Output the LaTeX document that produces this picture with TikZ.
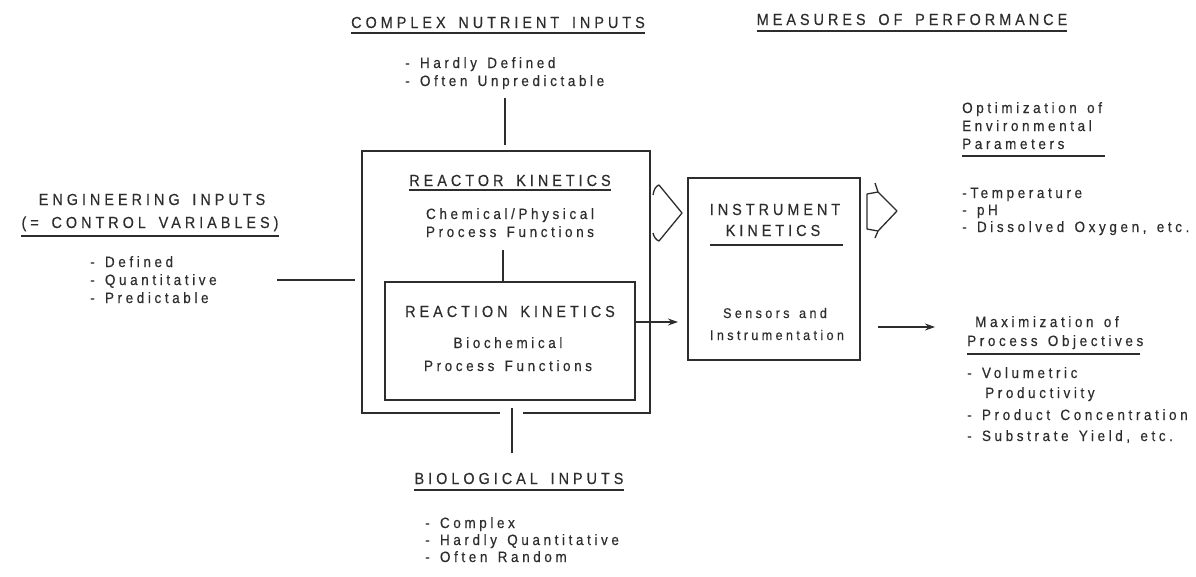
\documentclass[tikz,border=0pt]{standalone}
\usepackage{fontspec}
\setmainfont{Liberation Sans}
\newfontfamily\hdfont[FakeStretch=0.9,LetterSpace=25,WordSpace=1.6,FakeBold=0.4]{Liberation Sans}
\newfontfamily\txfont[FakeStretch=0.9,LetterSpace=24,WordSpace=1.4,FakeBold=0.4]{Liberation Sans}
\usetikzlibrary{arrows.meta,calc}
\definecolor{ink}{RGB}{45,45,45}
\begin{document}
\begin{tikzpicture}[x=1pt,y=-1pt,
  hd/.style={inner sep=0pt, anchor=base, font=\hdfont\fontsize{16}{19}\selectfont, text=ink},
  tx/.style={inner sep=0pt, anchor=base west, font=\txfont\fontsize{15}{18}\selectfont, text=ink},
  txc/.style={tx, anchor=base},
  ln/.style={draw=ink, line width=1.3pt},
  arr/.style={ln, -{Stealth[length=10pt,width=7pt]}},
  boxframe/.style={inner sep=0pt, outer sep=0pt},
  uline/.style={ln, line width=1.2pt},
]
\useasboundingbox (0,0) rectangle (1196,576);

% ---------- complex nutrient inputs ----------
\node[hd] (cnh) at (498,28) {COMPLEX NUTRIENT INPUTS};
\draw[uline] ([yshift=-5pt]cnh.base west) -- ([yshift=-5pt]cnh.base east);
\node[tx] (cn1) at (405,68) {- Hardly Defined};
\node[tx] (cn2) at (405,86) {- Often Unpredictable};
\coordinate (cnA) at (505,98);
\coordinate (cnB) at (505,145);
\draw[ln] (cnA) -- (cnB);

% ---------- reactor (outer) and reaction (inner) boxes ----------
\node[boxframe, minimum width=288pt, minimum height=262pt] (outer) at (506,282) {};
\coordinate (gapL) at (500,413);
\coordinate (gapR) at (523,413);
\draw[ln] (gapL) -- (outer.south west) -- (outer.north west) -- (outer.north east) -- (outer.south east) -- (gapR);

\node[hd] (rkh) at (510,186) {REACTOR KINETICS};
\draw[uline] ([yshift=-4pt]rkh.base west) -- ([yshift=-4pt]rkh.base east);
\node[txc] (rk1) at (510,219) {Chemical/Physical};
\node[txc] (rk2) at (510,237) {Process Functions};

\node[boxframe, draw=ink, line width=1.3pt, minimum width=250pt, minimum height=118pt] (inner) at (510,341) {};
\coordinate (midA) at (503,250);
\draw[ln] (midA) -- (midA |- inner.north);

\node[hd] (bkh) at (510,317) {REACTION KINETICS};
\node[txc] (bk1) at (508,348) {Biochemical};
\node[txc] (bk2) at (508,371) {Process Functions};

% ---------- instrument box ----------
\node[boxframe, draw=ink, line width=1.3pt, minimum width=172pt, minimum height=182pt] (inst) at (774,269) {};
\node[hd] (ikh1) at (775,215) {INSTRUMENT};
\node[hd] (ikh2) at (773,236) {KINETICS};
\draw[uline] ($(inst.west)+(22,-24)$) -- ($(inst.east)+(-17,-24)$);
\node[txc, font=\txfont\fontsize{14}{17}\selectfont] (ik1) at (775,318) {Sensors and};
\node[txc, font=\txfont\fontsize{14}{17}\selectfont] (ik2) at (777,340) {Instrumentation};

\draw[arr] ([yshift=19pt]inner.east) -- ([yshift=19pt,xshift=-10pt]inner.east -| inst.west);

% braces
\draw[ln, line join=round] (653,195) .. controls (654,189) and (656,186) .. (659,185)
  -- (682,213) -- (659,241) .. controls (656,240) and (654,237) .. (653,233);
\draw[ln, line join=round] (875,183) -- (878,192) -- (897,211) -- (878,231) -- (875,238);
\draw[ln, line join=round] (878,192) -- (867,194) -- (867,229) -- (878,231);

% ---------- measures of performance ----------
\node[hd] (mph) at (912,25) {MEASURES OF PERFORMANCE};
\draw[uline] ([yshift=-6pt]mph.base west) -- ([yshift=-6pt]mph.base east);

\node[tx] (op1) at (962,113) {Optimization of};
\node[tx] (op2) at (962,131) {Environmental};
\node[tx] (op3) at (962,149) {Parameters};
\draw[uline] ([yshift=-7pt]op3.base west) -- ++(143,0);
\node[tx] (ep1) at (962,198) {-Temperature};
\node[tx] (ep2) at (962,215) {- pH};
\node[tx] (ep3) at (962,232) {- Dissolved Oxygen, etc.};

\draw[arr] ([yshift=-58pt,xshift=18pt]inst.east) -- ([yshift=-58pt,xshift=75pt]inst.east);

\node[tx] (mx1) at (975,327) {Maximization of};
\node[tx] (mx2) at (967,346) {Process Objectives};
\draw[uline] ([yshift=-8pt]mx2.base west) -- ++(173,0);
\node[tx] (po1) at (967,378) {- Volumetric};
\node[tx] (po2) at (985,398) {Productivity};
\node[tx] (po3) at (967,420) {- Product Concentration};
\node[tx] (po4) at (967,441) {- Substrate Yield, etc.};

% ---------- engineering inputs ----------
\node[hd] (eih1) at (152,205) {ENGINEERING INPUTS};
\node[hd] (eih2) at (150,228) {(= CONTROL VARIABLES)};
\draw[uline] ([yshift=-8pt]eih2.base west) -- ([yshift=-8pt]eih2.base east);
\node[tx] (ei1) at (90,267) {- Defined};
\node[tx] (ei2) at (90,285) {- Quantitative};
\node[tx] (ei3) at (90,303) {- Predictable};
\coordinate (eiA) at (277,280);
\draw[ln] (eiA) -- ([xshift=-7pt]eiA -| outer.west);

% ---------- biological inputs ----------
\coordinate (bioA) at (512,453);
\coordinate (bioB) at (512,408);
\draw[ln] (bioA) -- (bioB);
\node[hd] (bih) at (519,484) {BIOLOGICAL INPUTS};
\draw[uline] ([yshift=-6pt]bih.base west) -- ([yshift=-6pt]bih.base east);
\node[tx] (bi1) at (425,528) {- Complex};
\node[tx] (bi2) at (425,545) {- Hardly Quantitative};
\node[tx] (bi3) at (425,562) {- Often Random};
\end{tikzpicture}
\end{document}
